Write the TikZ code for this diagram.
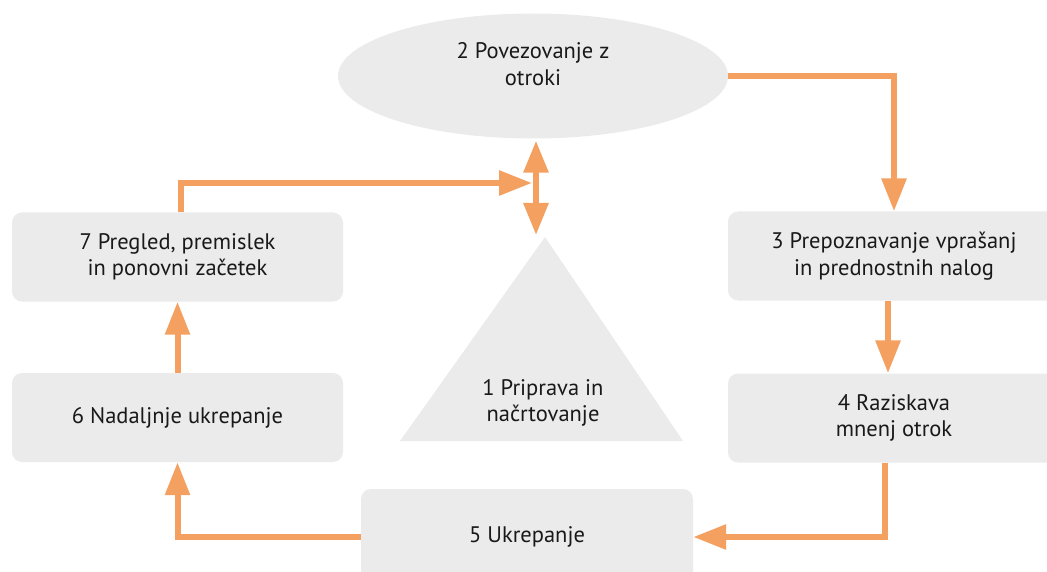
\documentclass[tikz,border=0pt]{standalone}
\usepackage{fontspec}
\setmainfont{PT Sans}
\usetikzlibrary{arrows.meta,shapes.geometric,calc}
\definecolor{cyclegray}{HTML}{EBEBEB}
\definecolor{cycleorange}{HTML}{F4A060}
\tikzset{
	stage/.style={fill=cyclegray,rounded corners=10pt,minimum width=332pt,minimum height=89pt,align=center,font=\fontsize{22.5}{26.5}\selectfont,text=black!90},
	stagetext/.style={align=center,font=\fontsize{22.5}{26.5}\selectfont,text=black!90},
	flow/.style={draw=cycleorange,line width=6pt,-{Triangle[length=33pt,width=24pt]}},
	twoway/.style={draw=cycleorange,line width=6pt,{Triangle[length=32pt,width=24pt]}-{Triangle[length=32pt,width=24pt]}}
}

\begin{document}
\begin{tikzpicture}[x=1pt,y=-1pt]
	\useasboundingbox (0,0) rectangle (1047,572);
	% stages
	\node[ellipse,fill=cyclegray,minimum width=390pt,minimum height=125pt,inner sep=0pt] (ell) at (533,76) {};
	\node[stagetext] (ell text) at (533,64) {2 Povezovanje z\\otroki};
	\node[stage] (box3) at (894,256) {3 Prepoznavanje vprašanj\\in prednostnih nalog};
	\node[stage] (box4) at (894,418) {4 Raziskava\\mnenj otrok};
	\node[stage,minimum height=96pt] (box5) at (527,537) {5 Ukrepanje};
	\node[stage,minimum width=331pt] (box6) at (177.5,417.5) {6 Nadaljnje ukrepanje};
	\node[stage,minimum width=331pt] (box7) at (177.5,257) {7 Pregled, premislek\\in ponovni začetek};
	% triangle for stage 1
	\coordinate (apex) at (545,237);
	\coordinate (base left) at (400,441);
	\coordinate (base right) at (683,441);
	\fill[cyclegray] (apex) -- (base left) -- (base right) -- cycle;
	\node[stagetext] (prep) at (543,403) {1 Priprava in\\načrtovanje};
	% connectors
	\coordinate (meet) at (532,183);
	\draw[flow] (ell.east) -| (box3.north);
	\draw[flow] ([xshift=-6pt]box3.south) -- ([xshift=-6pt]box4.north);
	\draw[flow] ([xshift=-9pt]box4.south) |- (box5.east);
	\draw[flow] (box5.west) -| (box6.south);
	\draw[flow] (box6.north) -- (box7.south);
	\draw[flow] ([xshift=3pt]box7.north) |- (meet);
	\draw[twoway] ($(ell.south)+(3,2)$) -- ($(ell.south |- apex)+(3,-2)$);
\end{tikzpicture}
\end{document}
